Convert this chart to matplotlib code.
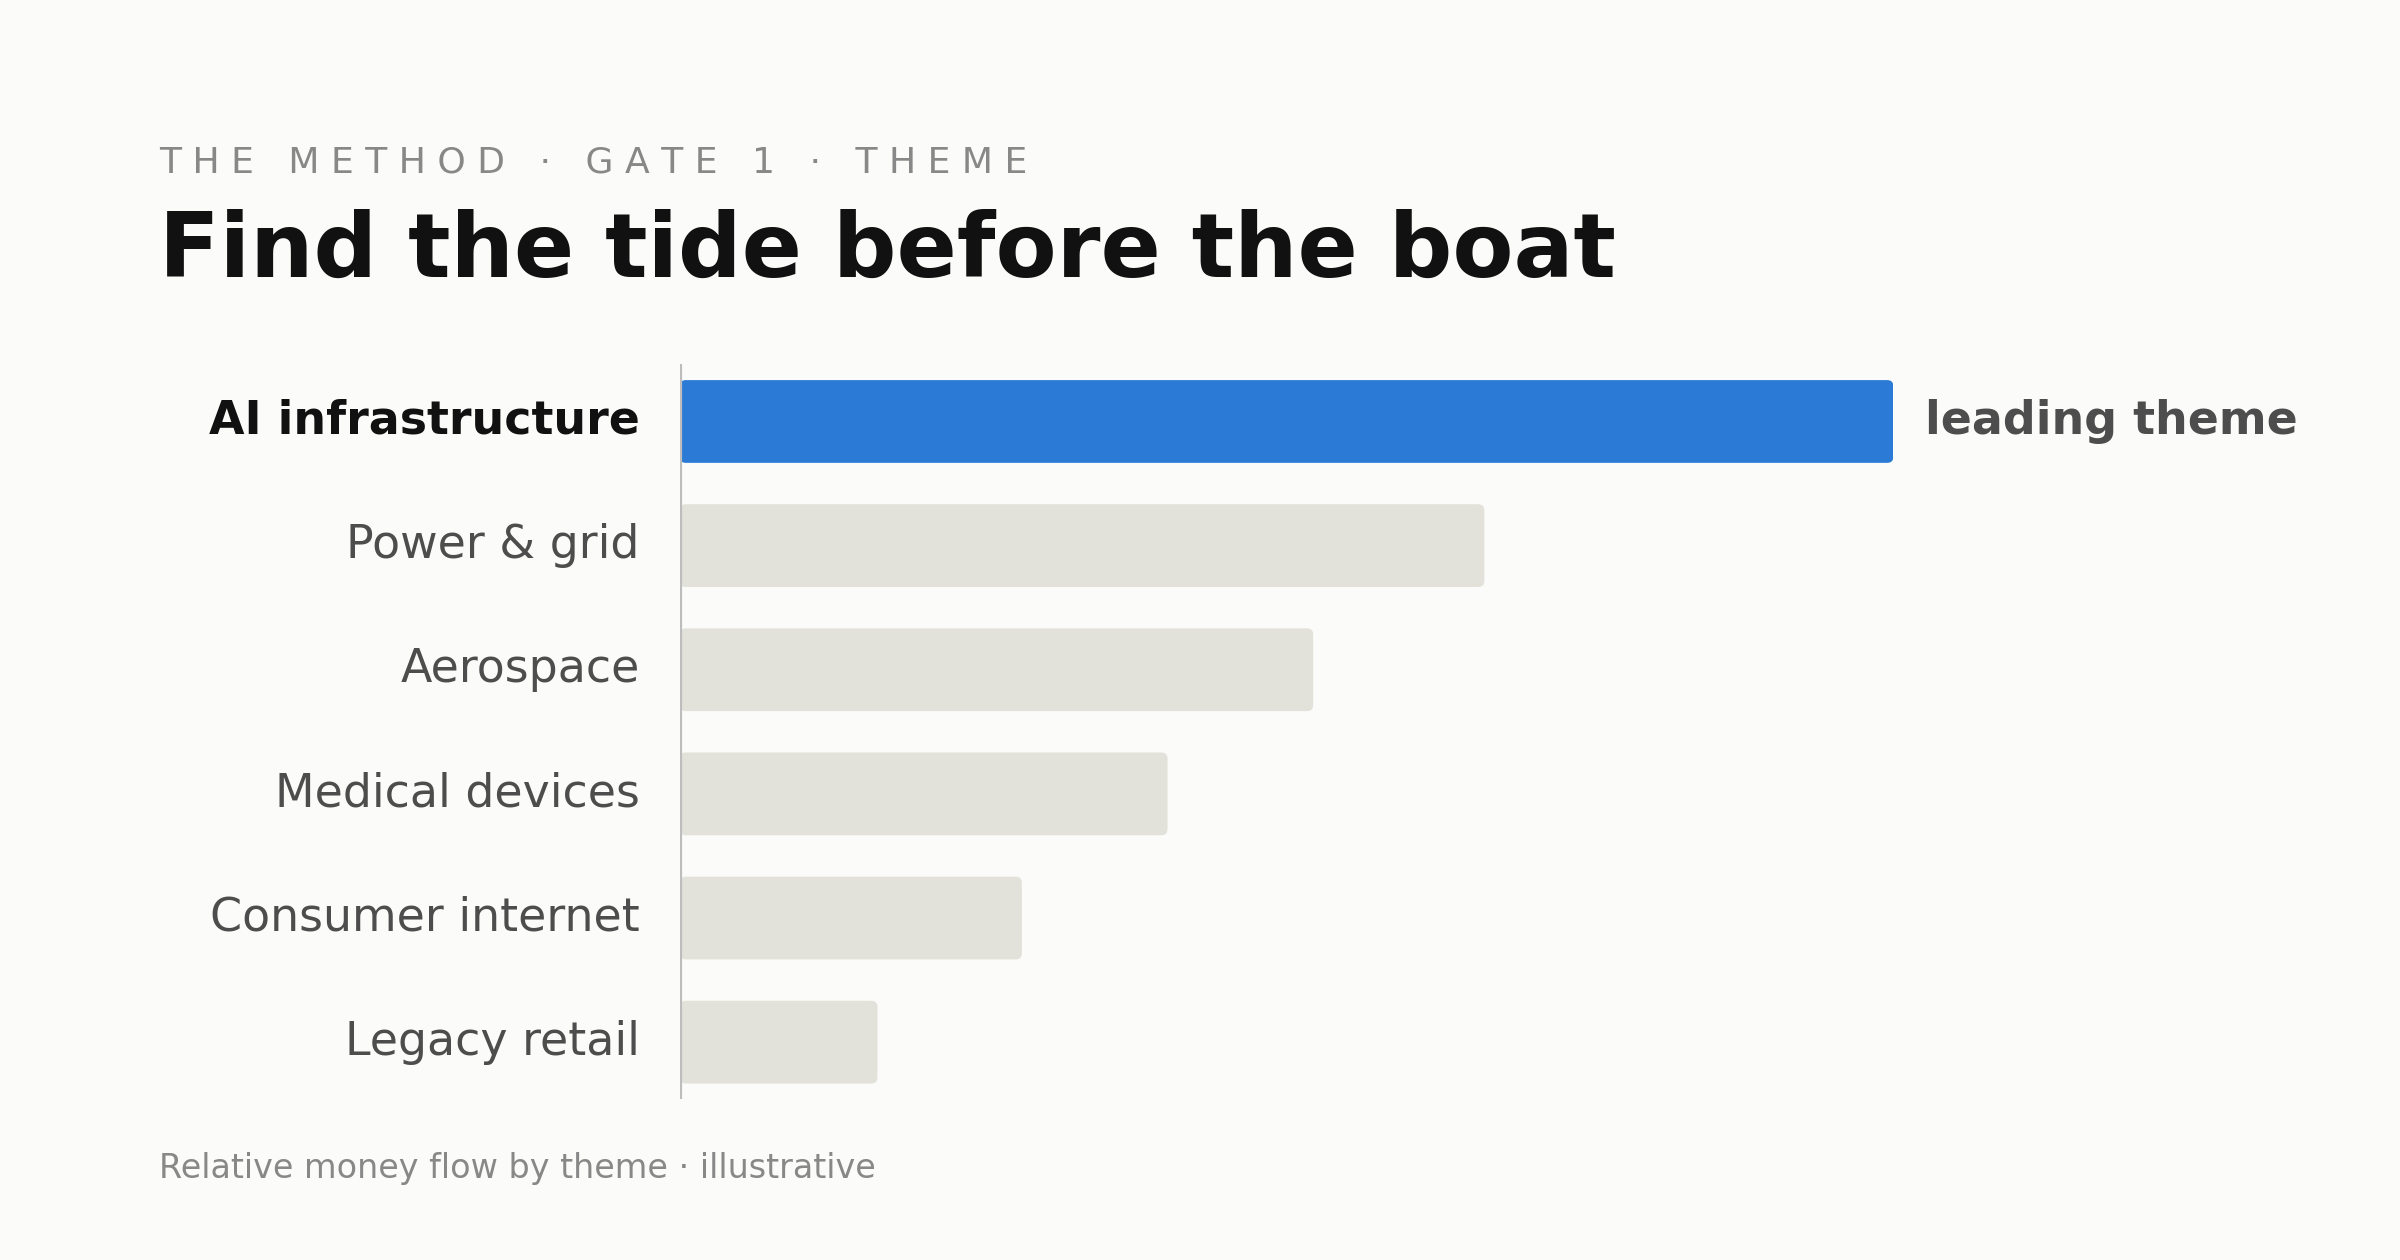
import matplotlib
matplotlib.use("Agg")
import matplotlib.pyplot as plt
from matplotlib.patches import FancyBboxPatch

categories = ["AI infrastructure", "Power & grid", "Aerospace", "Medical devices", "Consumer internet", "Legacy retail"]
values = [100, 66.3, 52.2, 40.2, 28.2, 16.3]
highlight = "AI infrastructure"
annotation = "leading theme"

BG = "#FBFBF9"
fig = plt.figure(figsize=(12, 6.3), dpi=200, facecolor=BG)
W, H = 1568, 823
ax = fig.add_axes([444/W, 1-718/H, (1237-444)/W, (718-238)/H])
ax.set_facecolor(BG)
n = len(categories)
ax.set_xlim(0, 100)
ax.set_ylim(n - 1 + 0.46, -0.46)
bh = 54/81
for i, (c, v) in enumerate(zip(categories, values)):
    col = "#2B7BD6" if c == highlight else "#E2E1DA"
    p = FancyBboxPatch((0, i - bh/2), v, bh, boxstyle="round,pad=0,rounding_size=0.5",
                       mutation_aspect=0.099, fc=col, ec="none")
    ax.add_patch(p)
    bold = c == highlight
    ax.text(-3.3, i, c, ha="right", va="center", fontsize=16.5,
            color="#111111" if bold else "#4D4D4D", fontweight="bold" if bold else "normal")
    if bold:
        ax.text(v + 2.6, i, annotation, ha="left", va="center", fontsize=16.5,
                color="#4D4D4D", fontweight="bold", clip_on=False)
ax.axvline(0, color="#BDBDBD", lw=1.5)
for s in ax.spines.values():
    s.set_visible(False)
ax.set_xticks([]); ax.set_yticks([])

fig.text(104/W, 1-106/H, "T H E   M E T H O D   ·   G A T E   1   ·   T H E M E",
         fontsize=13, color="#888888", va="center")
fig.text(104/W, 1-165/H, "Find the tide before the boat", fontsize=32,
         fontweight="bold", color="#111111", va="center")
fig.text(104/W, 1-763/H, "Relative money flow by theme · illustrative",
         fontsize=12, color="#888888", va="center")
fig.savefig("out.png", dpi=200, facecolor=BG)
